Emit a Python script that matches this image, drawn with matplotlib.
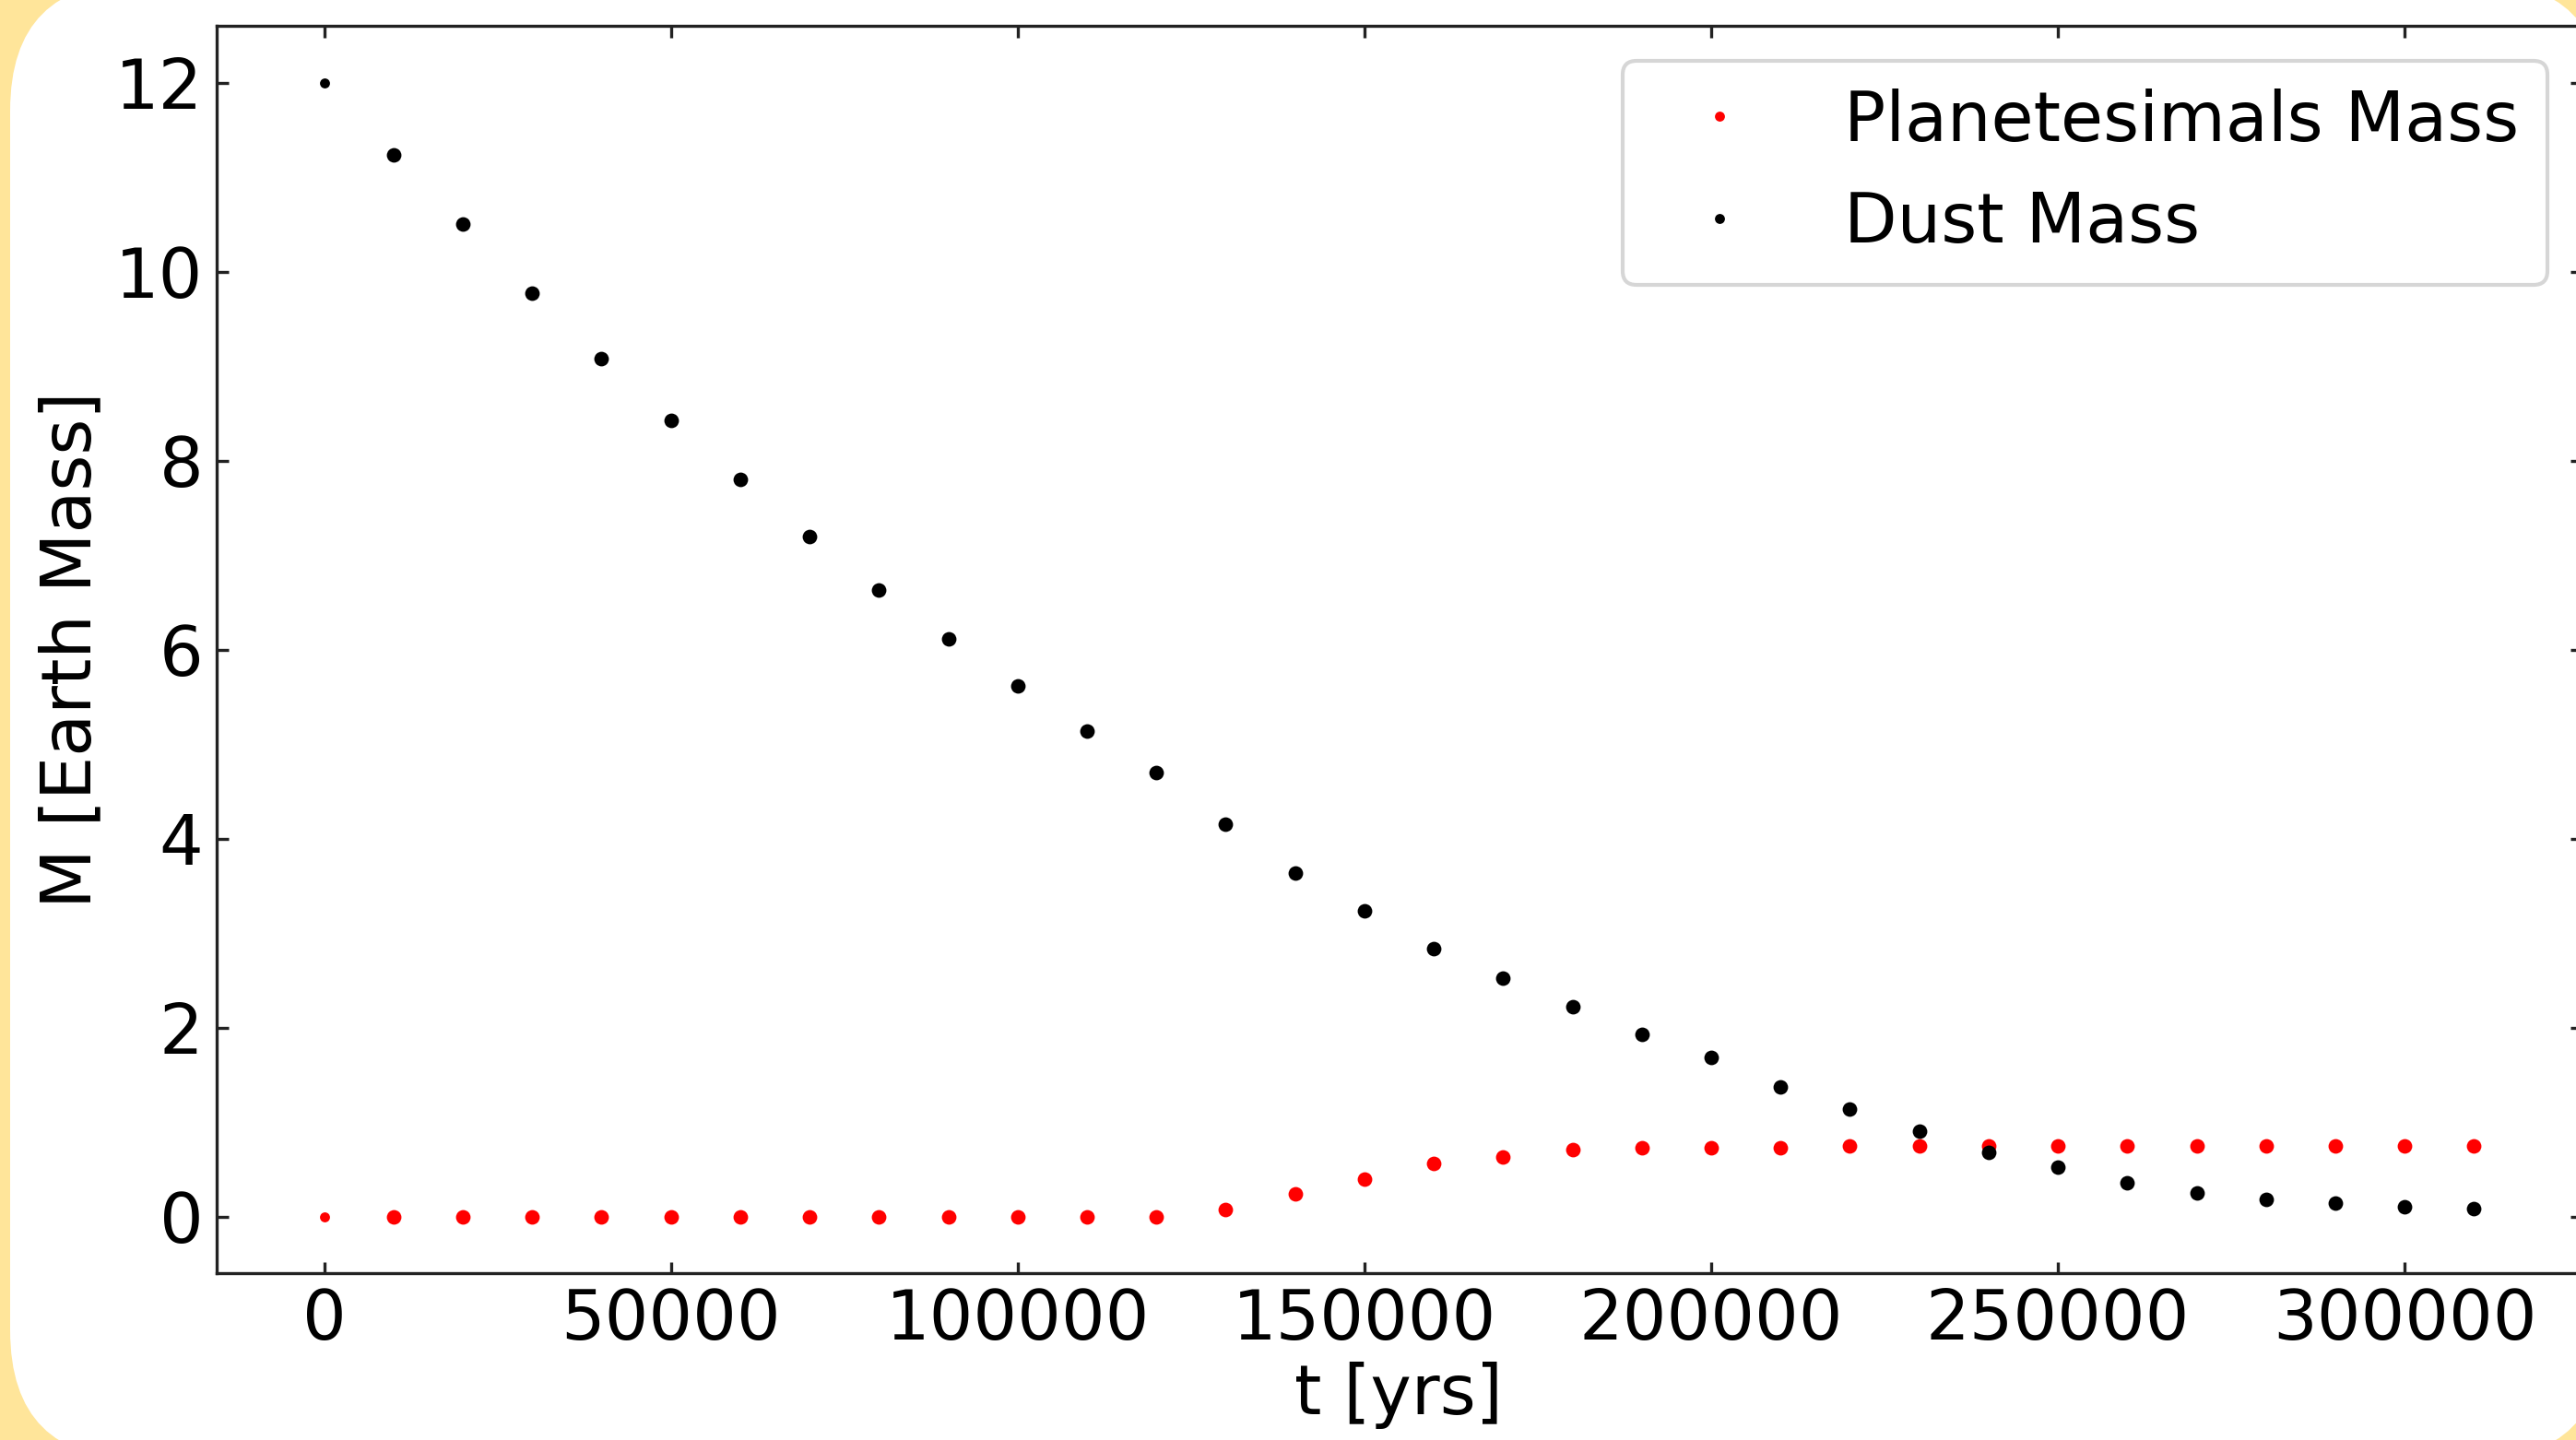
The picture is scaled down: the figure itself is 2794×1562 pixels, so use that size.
import numpy as np
import matplotlib
matplotlib.use("Agg")
import matplotlib.pyplot as plt
from matplotlib.patches import FancyBboxPatch

# time in years
t = [0, 10000, 20000, 30000, 40000, 50000, 60000, 70000, 80000, 90000,
     100000, 110000, 120000, 130000, 140000, 150000, 160000, 170000, 180000,
     190000, 200000, 210000, 220000, 230000, 240000, 250000, 260000, 270000,
     280000, 290000, 300000, 310000]

planetesimal_mass = [0, 0, 0, 0, 0, 0, 0, 0, 0, 0,
                     0, 0, 0, 0.07, 0.24, 0.40, 0.56, 0.63, 0.71,
                     0.73, 0.73, 0.73, 0.75, 0.75, 0.75, 0.75, 0.75, 0.75,
                     0.75, 0.75, 0.75, 0.75]

dust_mass = [12.0, 11.23, 10.50, 9.77, 9.08, 8.42, 7.80, 7.20, 6.63, 6.11,
             5.61, 5.14, 4.70, 4.15, 3.63, 3.23, 2.83, 2.52, 2.22,
             1.93, 1.68, 1.37, 1.14, 0.90, 0.68, 0.52, 0.36, 0.25,
             0.18, 0.14, 0.10, 0.08]

plt.rcParams['font.family'] = ['DejaVu Sans']
plt.rcParams['font.size'] = 18

W, H, DPI = 2794, 1562, 300
fig = plt.figure(figsize=(W / DPI, H / DPI), dpi=DPI)
fig.patch.set_facecolor('#FFE59A')

# white rounded card behind the plot
bg = fig.add_axes([0, 0, 1, 1], zorder=0)
bg.set_xlim(0, W)
bg.set_ylim(H, 0)
bg.axis('off')
bg.add_patch(FancyBboxPatch((11, -20), 2825 - 11, 1583 + 20,
                            boxstyle='round,pad=0,rounding_size=140',
                            facecolor='white', edgecolor='none'))

ax = fig.add_axes([235 / W, 1 - 1381 / H, (2800 - 235) / W, (1381 - 28) / H], zorder=1)
ax.patch.set_alpha(0)

# first point is drawn smaller, as in the original
ax.plot(t[:1], planetesimal_mass[:1], 'o', color='red', ms=2.6, mew=0, label='Planetesimals Mass')
ax.plot(t[1:], planetesimal_mass[1:], 'o', color='red', ms=3.8, mew=0)
ax.plot(t[:1], dust_mass[:1], 'o', color='black', ms=2.6, mew=0, label='Dust Mass')
ax.plot(t[1:], dust_mass[1:], 'o', color='black', ms=3.8, mew=0)

ax.set_xlabel('t [yrs]', labelpad=2)
ax.set_ylabel('M [Earth Mass]', labelpad=2.5)

ax.tick_params(direction='in', top=True, right=True, length=3, width=0.8,
               color='#222222', pad=3.5)
for s in ax.spines.values():
    s.set_color('#222222')
    s.set_linewidth(0.8)

ax.legend(loc='upper right')

fig.savefig('out.png', dpi=DPI, facecolor=fig.get_facecolor())
